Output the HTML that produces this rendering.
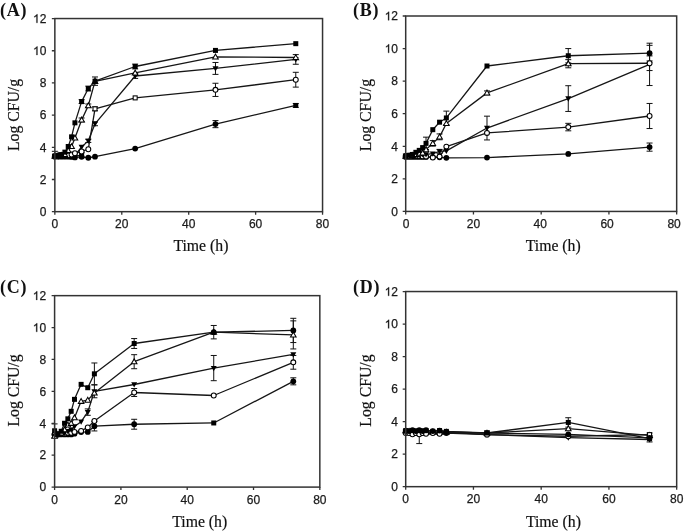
<!DOCTYPE html>
<html><head><meta charset="utf-8"><style>
html,body{margin:0;padding:0;background:#fff;width:685px;height:531px;overflow:hidden}
svg{display:block;will-change:transform}
.tl{font-family:"Liberation Sans",sans-serif;font-size:12px;fill:#1a1a1a;stroke:#1a1a1a;stroke-width:0.25px}
.at{font-family:"Liberation Serif",serif;font-size:15.75px;fill:#111;stroke:#111;stroke-width:0.2px}
.pl{font-family:"Liberation Serif",serif;font-size:18px;font-weight:bold;fill:#111;letter-spacing:0.8px}
</style></head><body>
<svg width="685" height="531" viewBox="0 0 685 531">
<rect width="685" height="531" fill="#fff"/>
<g>
<g><path d="M54.85,156.63 L58.20,156.63 L61.54,156.63 L64.89,156.63 L68.23,156.63 L71.58,156.95 L74.93,157.44 L81.62,156.79 L88.31,157.76 L95.00,156.63 L135.16,148.58 L215.47,124.12 L295.78,105.45" fill="none" stroke="#161616" stroke-width="1.3" stroke-linejoin="round"/>
<path d="M54.85,156.15 L58.20,156.15 L61.54,156.15 L64.89,156.15 L68.23,156.15 L71.58,156.15 L81.62,155.34" fill="none" stroke="#161616" stroke-width="1.3" stroke-linejoin="round"/>
<path d="M54.85,156.63 L58.20,156.63 L61.54,156.15 L64.89,156.15 L68.23,156.15 L71.58,156.15 L74.93,155.34 L81.62,146.97 L88.31,140.86 L95.00,123.80 L135.16,76.00 L215.47,68.44 L295.78,59.43" fill="none" stroke="#161616" stroke-width="1.3" stroke-linejoin="round"/>
<path d="M54.85,156.15 L58.20,156.15 L61.54,156.15 L64.89,155.34 L68.23,155.34 L71.58,154.54 L74.93,153.25 L81.62,151.48 L88.31,149.23 L95.00,108.83 L135.16,97.89 L215.47,89.84 L295.78,79.70" fill="none" stroke="#161616" stroke-width="1.3" stroke-linejoin="round"/>
<path d="M54.85,156.15 L58.20,155.34 L61.54,155.34 L64.89,154.54 L68.23,150.52 L71.58,146.49 L74.93,137.96 L81.62,119.94 L88.31,105.61 L95.00,81.31 L135.16,72.95 L215.47,56.85 L295.78,57.50" fill="none" stroke="#161616" stroke-width="1.3" stroke-linejoin="round"/>
<path d="M54.85,156.15 L58.20,155.34 L61.54,154.54 L64.89,152.12 L68.23,146.49 L71.58,136.84 L74.93,122.83 L81.62,101.59 L88.31,88.56 L95.00,81.15 L135.16,66.51 L215.47,50.41 L295.78,43.66" fill="none" stroke="#161616" stroke-width="1.3" stroke-linejoin="round"/>
<path d="M54.85,151.32V157.44M51.85,151.32H57.85M51.85,157.44H57.85" stroke="#111" stroke-width="1" fill="none"/>
<path d="M215.47,120.58V127.66M212.47,120.58H218.47M212.47,127.66H218.47" stroke="#111" stroke-width="1" fill="none"/>
<path d="M295.78,103.52V107.39M292.78,103.52H298.78M292.78,107.39H298.78" stroke="#111" stroke-width="1" fill="none"/>
<path d="M81.62,152.77V157.92M78.62,152.77H84.62M78.62,157.92H84.62" stroke="#111" stroke-width="1" fill="none"/>
<path d="M88.31,139.25V142.47M85.31,139.25H91.31M85.31,142.47H91.31" stroke="#111" stroke-width="1" fill="none"/>
<path d="M95.00,121.87V125.73M92.00,121.87H98.00M92.00,125.73H98.00" stroke="#111" stroke-width="1" fill="none"/>
<path d="M135.16,73.59V78.42M132.16,73.59H138.16M132.16,78.42H138.16" stroke="#111" stroke-width="1" fill="none"/>
<path d="M215.47,62.48V74.39M212.47,62.48H218.47M212.47,74.39H218.47" stroke="#111" stroke-width="1" fill="none"/>
<path d="M295.78,54.60V64.26M292.78,54.60H298.78M292.78,64.26H298.78" stroke="#111" stroke-width="1" fill="none"/>
<path d="M95.00,106.90V110.76M92.00,106.90H98.00M92.00,110.76H98.00" stroke="#111" stroke-width="1" fill="none"/>
<path d="M215.47,83.25V96.44M212.47,83.25H218.47M212.47,96.44H218.47" stroke="#111" stroke-width="1" fill="none"/>
<path d="M295.78,72.30V87.11M292.78,72.30H298.78M292.78,87.11H298.78" stroke="#111" stroke-width="1" fill="none"/>
<path d="M81.62,118.01V121.87M78.62,118.01H84.62M78.62,121.87H84.62" stroke="#111" stroke-width="1" fill="none"/>
<path d="M88.31,104.01V107.22M85.31,104.01H91.31M85.31,107.22H91.31" stroke="#111" stroke-width="1" fill="none"/>
<path d="M81.62,99.66V103.52M78.62,99.66H84.62M78.62,103.52H84.62" stroke="#111" stroke-width="1" fill="none"/>
<path d="M88.31,86.14V90.97M85.31,86.14H91.31M85.31,90.97H91.31" stroke="#111" stroke-width="1" fill="none"/>
<path d="M95.00,76.97V85.34M92.00,76.97H98.00M92.00,85.34H98.00" stroke="#111" stroke-width="1" fill="none"/>
<path d="M135.16,64.09V68.92M132.16,64.09H138.16M132.16,68.92H138.16" stroke="#111" stroke-width="1" fill="none"/>
<circle cx="54.85" cy="156.63" r="2.90" fill="#000"/>
<circle cx="58.20" cy="156.63" r="2.90" fill="#000"/>
<circle cx="61.54" cy="156.63" r="2.90" fill="#000"/>
<circle cx="64.89" cy="156.63" r="2.90" fill="#000"/>
<circle cx="68.23" cy="156.63" r="2.90" fill="#000"/>
<circle cx="71.58" cy="156.95" r="2.90" fill="#000"/>
<circle cx="74.93" cy="157.44" r="2.90" fill="#000"/>
<circle cx="81.62" cy="156.79" r="2.90" fill="#000"/>
<circle cx="88.31" cy="157.76" r="2.90" fill="#000"/>
<circle cx="95.00" cy="156.63" r="2.90" fill="#000"/>
<circle cx="135.16" cy="148.58" r="2.90" fill="#000"/>
<circle cx="215.47" cy="124.12" r="2.90" fill="#000"/>
<rect x="293.28" y="102.95" width="5.00" height="5.00" fill="#000"/>
<rect x="52.35" y="153.65" width="5.00" height="5.00" fill="#000"/>
<rect x="55.70" y="153.65" width="5.00" height="5.00" fill="#000"/>
<rect x="59.04" y="153.65" width="5.00" height="5.00" fill="#000"/>
<rect x="62.39" y="153.65" width="5.00" height="5.00" fill="#000"/>
<rect x="65.73" y="153.65" width="5.00" height="5.00" fill="#000"/>
<rect x="69.08" y="153.65" width="5.00" height="5.00" fill="#000"/>
<rect x="79.12" y="152.84" width="5.00" height="5.00" fill="#000"/>
<path d="M51.85,154.43L57.85,154.43L54.85,159.73Z" fill="#000"/>
<path d="M55.20,154.43L61.20,154.43L58.20,159.73Z" fill="#000"/>
<path d="M58.54,153.95L64.54,153.95L61.54,159.25Z" fill="#000"/>
<path d="M61.89,153.95L67.89,153.95L64.89,159.25Z" fill="#000"/>
<path d="M65.23,153.95L71.23,153.95L68.23,159.25Z" fill="#000"/>
<path d="M68.58,153.95L74.58,153.95L71.58,159.25Z" fill="#000"/>
<path d="M71.93,153.14L77.93,153.14L74.93,158.44Z" fill="#000"/>
<path d="M78.62,144.77L84.62,144.77L81.62,150.07Z" fill="#000"/>
<path d="M85.31,138.66L91.31,138.66L88.31,143.96Z" fill="#000"/>
<path d="M92.00,121.60L98.00,121.60L95.00,126.90Z" fill="#000"/>
<path d="M132.16,73.80L138.16,73.80L135.16,79.10Z" fill="#000"/>
<path d="M212.47,66.24L218.47,66.24L215.47,71.54Z" fill="#000"/>
<path d="M292.78,57.23L298.78,57.23L295.78,62.53Z" fill="#000"/>
<circle cx="54.85" cy="156.15" r="2.45" fill="#fff" stroke="#000" stroke-width="1.05"/>
<circle cx="58.20" cy="156.15" r="2.45" fill="#fff" stroke="#000" stroke-width="1.05"/>
<circle cx="61.54" cy="156.15" r="2.45" fill="#fff" stroke="#000" stroke-width="1.05"/>
<circle cx="64.89" cy="155.34" r="2.45" fill="#fff" stroke="#000" stroke-width="1.05"/>
<circle cx="68.23" cy="155.34" r="2.45" fill="#fff" stroke="#000" stroke-width="1.05"/>
<circle cx="71.58" cy="154.54" r="2.45" fill="#fff" stroke="#000" stroke-width="1.05"/>
<circle cx="74.93" cy="153.25" r="2.45" fill="#fff" stroke="#000" stroke-width="1.05"/>
<circle cx="81.62" cy="151.48" r="2.45" fill="#fff" stroke="#000" stroke-width="1.05"/>
<circle cx="88.31" cy="149.23" r="2.45" fill="#fff" stroke="#000" stroke-width="1.05"/>
<rect x="93.00" y="106.83" width="4.00" height="4.00" fill="#fff" stroke="#000" stroke-width="1.05"/>
<rect x="133.16" y="95.89" width="4.00" height="4.00" fill="#fff" stroke="#000" stroke-width="1.05"/>
<circle cx="215.47" cy="89.84" r="2.45" fill="#fff" stroke="#000" stroke-width="1.05"/>
<circle cx="295.78" cy="79.70" r="2.45" fill="#fff" stroke="#000" stroke-width="1.05"/>
<path d="M52.05,158.25L57.65,158.25L54.85,153.35Z" fill="#fff" stroke="#000" stroke-width="1.05" stroke-linejoin="miter"/>
<path d="M55.40,157.44L61.00,157.44L58.20,152.54Z" fill="#fff" stroke="#000" stroke-width="1.05" stroke-linejoin="miter"/>
<path d="M58.74,157.44L64.34,157.44L61.54,152.54Z" fill="#fff" stroke="#000" stroke-width="1.05" stroke-linejoin="miter"/>
<path d="M62.09,156.64L67.69,156.64L64.89,151.74Z" fill="#fff" stroke="#000" stroke-width="1.05" stroke-linejoin="miter"/>
<path d="M65.44,152.62L71.03,152.62L68.23,147.72Z" fill="#fff" stroke="#000" stroke-width="1.05" stroke-linejoin="miter"/>
<path d="M68.78,148.59L74.38,148.59L71.58,143.69Z" fill="#fff" stroke="#000" stroke-width="1.05" stroke-linejoin="miter"/>
<path d="M72.13,140.06L77.73,140.06L74.93,135.16Z" fill="#fff" stroke="#000" stroke-width="1.05" stroke-linejoin="miter"/>
<path d="M78.82,122.04L84.42,122.04L81.62,117.14Z" fill="#fff" stroke="#000" stroke-width="1.05" stroke-linejoin="miter"/>
<path d="M85.51,107.71L91.11,107.71L88.31,102.81Z" fill="#fff" stroke="#000" stroke-width="1.05" stroke-linejoin="miter"/>
<path d="M92.20,83.41L97.80,83.41L95.00,78.51Z" fill="#fff" stroke="#000" stroke-width="1.05" stroke-linejoin="miter"/>
<path d="M132.36,75.05L137.96,75.05L135.16,70.15Z" fill="#fff" stroke="#000" stroke-width="1.05" stroke-linejoin="miter"/>
<path d="M212.67,58.95L218.27,58.95L215.47,54.05Z" fill="#fff" stroke="#000" stroke-width="1.05" stroke-linejoin="miter"/>
<path d="M292.98,59.60L298.58,59.60L295.78,54.70Z" fill="#fff" stroke="#000" stroke-width="1.05" stroke-linejoin="miter"/>
<rect x="52.35" y="153.65" width="5.00" height="5.00" fill="#000"/>
<rect x="55.70" y="152.84" width="5.00" height="5.00" fill="#000"/>
<rect x="59.04" y="152.04" width="5.00" height="5.00" fill="#000"/>
<rect x="62.39" y="149.62" width="5.00" height="5.00" fill="#000"/>
<rect x="65.73" y="143.99" width="5.00" height="5.00" fill="#000"/>
<rect x="69.08" y="134.34" width="5.00" height="5.00" fill="#000"/>
<rect x="72.43" y="120.33" width="5.00" height="5.00" fill="#000"/>
<rect x="79.12" y="99.09" width="5.00" height="5.00" fill="#000"/>
<rect x="85.81" y="86.06" width="5.00" height="5.00" fill="#000"/>
<rect x="92.50" y="78.65" width="5.00" height="5.00" fill="#000"/>
<rect x="132.66" y="64.01" width="5.00" height="5.00" fill="#000"/>
<rect x="212.97" y="47.91" width="5.00" height="5.00" fill="#000"/>
<rect x="293.28" y="41.16" width="5.00" height="5.00" fill="#000"/>
<rect x="54.85" y="18.55" width="267.70" height="193.12" fill="none" stroke="#333" stroke-width="1.5"/>
<path d="M51.85,211.67H54.85 M51.85,179.48H54.85 M51.85,147.30H54.85 M51.85,115.11H54.85 M51.85,82.92H54.85 M51.85,50.74H54.85 M51.85,18.55H54.85 M54.85,211.67V214.67 M121.78,211.67V214.67 M188.70,211.67V214.67 M255.62,211.67V214.67 M322.55,211.67V214.67" stroke="#333" stroke-width="1.3"/>
<text x="46.35" y="215.97" text-anchor="end" class="tl">0</text>
<text x="46.35" y="183.78" text-anchor="end" class="tl">2</text>
<text x="46.35" y="151.60" text-anchor="end" class="tl">4</text>
<text x="46.35" y="119.41" text-anchor="end" class="tl">6</text>
<text x="46.35" y="87.22" text-anchor="end" class="tl">8</text>
<path d="M37.47,55.04L36.42,55.04L36.42,48.32C36.17,48.56 35.83,48.80 35.42,49.04C35.01,49.28 34.64,49.45 34.32,49.58L34.32,48.56C34.91,48.28 35.43,47.94 35.87,47.55C36.31,47.16 36.62,46.79 36.80,46.45L37.47,46.45Z" fill="#1a1a1a" stroke="#1a1a1a" stroke-width="0.25"/>
<text x="39.68" y="55.04" class="tl">0</text>
<path d="M37.47,22.85L36.42,22.85L36.42,16.13C36.17,16.37 35.83,16.61 35.42,16.85C35.01,17.09 34.64,17.27 34.32,17.39L34.32,16.37C34.91,16.09 35.43,15.75 35.87,15.36C36.31,14.97 36.62,14.60 36.80,14.26L37.47,14.26Z" fill="#1a1a1a" stroke="#1a1a1a" stroke-width="0.25"/>
<text x="39.68" y="22.85" class="tl">2</text>
<text x="54.85" y="228.47" text-anchor="middle" class="tl">0</text>
<text x="121.78" y="228.47" text-anchor="middle" class="tl">20</text>
<text x="188.70" y="228.47" text-anchor="middle" class="tl">40</text>
<text x="255.62" y="228.47" text-anchor="middle" class="tl">60</text>
<text x="322.55" y="228.47" text-anchor="middle" class="tl">80</text>
<text x="200.90" y="251.20" text-anchor="middle" class="at">Time (h)</text>
<text transform="translate(18.50,115.00) rotate(-90)" text-anchor="middle" class="at">Log CFU/g</text>
<text x="0" y="15.7" class="pl">(A)</text></g>
<g><path d="M405.70,156.88 L409.09,156.88 L412.47,156.88 L415.86,156.88 L419.25,156.88 L422.64,156.88 L426.02,156.88 L432.80,157.21 L439.57,157.37 L446.35,157.86 L486.99,157.53 L568.28,153.95 L649.57,147.11" fill="none" stroke="#161616" stroke-width="1.3" stroke-linejoin="round"/>
<path d="M405.70,156.07 L409.09,156.07 L412.47,156.07 L415.86,156.07 L419.25,156.07 L422.64,156.39 L426.02,156.55 L432.80,157.53 L439.57,156.55 L446.35,146.62 L486.99,132.94 L568.28,127.08 L649.57,116.00" fill="none" stroke="#161616" stroke-width="1.3" stroke-linejoin="round"/>
<path d="M405.70,156.07 L409.09,156.07 L412.47,156.07 L415.86,155.25 L419.25,155.25 L422.64,154.44 L426.02,154.44 L432.80,153.62 L439.57,151.34 L446.35,150.85 L486.99,128.05 L568.28,98.57 L649.57,64.37" fill="none" stroke="#161616" stroke-width="1.3" stroke-linejoin="round"/>
<path d="M405.70,156.07 L409.09,156.07 L412.47,155.25 L415.86,154.44 L419.25,153.62 L422.64,152.81 L426.02,149.55 L432.80,143.36 L439.57,136.85 L446.35,123.49 L486.99,92.87 L568.28,63.72 L649.57,63.23" fill="none" stroke="#161616" stroke-width="1.3" stroke-linejoin="round"/>
<path d="M405.70,156.07 L409.09,155.25 L412.47,154.44 L415.86,152.32 L419.25,150.37 L422.64,147.60 L426.02,143.36 L432.80,129.68 L439.57,122.19 L446.35,117.95 L486.99,66.00 L568.28,55.74 L649.57,53.13" fill="none" stroke="#161616" stroke-width="1.3" stroke-linejoin="round"/>
<path d="M649.57,143.04V151.18M646.57,143.04H652.57M646.57,151.18H652.57" stroke="#111" stroke-width="1" fill="none"/>
<path d="M568.28,123.33V130.82M565.28,123.33H571.28M565.28,130.82H571.28" stroke="#111" stroke-width="1" fill="none"/>
<path d="M649.57,103.46V128.54M646.57,103.46H652.57M646.57,128.54H652.57" stroke="#111" stroke-width="1" fill="none"/>
<path d="M439.57,149.39V153.30M436.57,149.39H442.57M436.57,153.30H442.57" stroke="#111" stroke-width="1" fill="none"/>
<path d="M486.99,116.16V139.94M483.99,116.16H489.99M483.99,139.94H489.99" stroke="#111" stroke-width="1" fill="none"/>
<path d="M568.28,85.71V111.44M565.28,85.71H571.28M565.28,111.44H571.28" stroke="#111" stroke-width="1" fill="none"/>
<path d="M649.57,43.20V85.54M646.57,43.20H652.57M646.57,85.54H652.57" stroke="#111" stroke-width="1" fill="none"/>
<path d="M432.80,140.59V146.13M429.80,140.59H435.80M429.80,146.13H435.80" stroke="#111" stroke-width="1" fill="none"/>
<path d="M439.57,133.92V139.78M436.57,133.92H442.57M436.57,139.78H442.57" stroke="#111" stroke-width="1" fill="none"/>
<path d="M486.99,90.92V94.83M483.99,90.92H489.99M483.99,94.83H489.99" stroke="#111" stroke-width="1" fill="none"/>
<path d="M568.28,59.65V67.79M565.28,59.65H571.28M565.28,67.79H571.28" stroke="#111" stroke-width="1" fill="none"/>
<path d="M649.57,55.90V70.56M646.57,55.90H652.57M646.57,70.56H652.57" stroke="#111" stroke-width="1" fill="none"/>
<path d="M426.02,137.17V149.55M423.02,137.17H429.02M423.02,149.55H429.02" stroke="#111" stroke-width="1" fill="none"/>
<path d="M446.35,111.11V124.79M443.35,111.11H449.35M443.35,124.79H449.35" stroke="#111" stroke-width="1" fill="none"/>
<path d="M568.28,48.57V62.91M565.28,48.57H571.28M565.28,62.91H571.28" stroke="#111" stroke-width="1" fill="none"/>
<path d="M649.57,45.32V60.95M646.57,45.32H652.57M646.57,60.95H652.57" stroke="#111" stroke-width="1" fill="none"/>
<circle cx="405.70" cy="156.88" r="2.90" fill="#000"/>
<circle cx="409.09" cy="156.88" r="2.90" fill="#000"/>
<circle cx="412.47" cy="156.88" r="2.90" fill="#000"/>
<circle cx="415.86" cy="156.88" r="2.90" fill="#000"/>
<circle cx="419.25" cy="156.88" r="2.90" fill="#000"/>
<circle cx="422.64" cy="156.88" r="2.90" fill="#000"/>
<circle cx="426.02" cy="156.88" r="2.90" fill="#000"/>
<circle cx="432.80" cy="157.21" r="2.90" fill="#000"/>
<circle cx="439.57" cy="157.37" r="2.90" fill="#000"/>
<circle cx="446.35" cy="157.86" r="2.90" fill="#000"/>
<circle cx="486.99" cy="157.53" r="2.90" fill="#000"/>
<circle cx="568.28" cy="153.95" r="2.90" fill="#000"/>
<circle cx="649.57" cy="147.11" r="2.90" fill="#000"/>
<circle cx="405.70" cy="156.07" r="2.45" fill="#fff" stroke="#000" stroke-width="1.05"/>
<circle cx="409.09" cy="156.07" r="2.45" fill="#fff" stroke="#000" stroke-width="1.05"/>
<circle cx="412.47" cy="156.07" r="2.45" fill="#fff" stroke="#000" stroke-width="1.05"/>
<circle cx="415.86" cy="156.07" r="2.45" fill="#fff" stroke="#000" stroke-width="1.05"/>
<circle cx="419.25" cy="156.07" r="2.45" fill="#fff" stroke="#000" stroke-width="1.05"/>
<circle cx="422.64" cy="156.39" r="2.45" fill="#fff" stroke="#000" stroke-width="1.05"/>
<circle cx="426.02" cy="156.55" r="2.45" fill="#fff" stroke="#000" stroke-width="1.05"/>
<circle cx="432.80" cy="157.53" r="2.45" fill="#fff" stroke="#000" stroke-width="1.05"/>
<circle cx="439.57" cy="156.55" r="2.45" fill="#fff" stroke="#000" stroke-width="1.05"/>
<circle cx="446.35" cy="146.62" r="2.45" fill="#fff" stroke="#000" stroke-width="1.05"/>
<circle cx="486.99" cy="132.94" r="2.45" fill="#fff" stroke="#000" stroke-width="1.05"/>
<circle cx="568.28" cy="127.08" r="2.45" fill="#fff" stroke="#000" stroke-width="1.05"/>
<circle cx="649.57" cy="116.00" r="2.45" fill="#fff" stroke="#000" stroke-width="1.05"/>
<path d="M402.70,153.87L408.70,153.87L405.70,159.17Z" fill="#000"/>
<path d="M406.09,153.87L412.09,153.87L409.09,159.17Z" fill="#000"/>
<path d="M409.47,153.87L415.47,153.87L412.47,159.17Z" fill="#000"/>
<path d="M412.86,153.05L418.86,153.05L415.86,158.35Z" fill="#000"/>
<path d="M416.25,153.05L422.25,153.05L419.25,158.35Z" fill="#000"/>
<path d="M419.64,152.24L425.64,152.24L422.64,157.54Z" fill="#000"/>
<path d="M423.02,152.24L429.02,152.24L426.02,157.54Z" fill="#000"/>
<path d="M429.80,151.42L435.80,151.42L432.80,156.72Z" fill="#000"/>
<path d="M436.57,149.14L442.57,149.14L439.57,154.44Z" fill="#000"/>
<path d="M443.35,148.65L449.35,148.65L446.35,153.95Z" fill="#000"/>
<path d="M483.99,125.85L489.99,125.85L486.99,131.15Z" fill="#000"/>
<path d="M565.28,96.37L571.28,96.37L568.28,101.67Z" fill="#000"/>
<path d="M646.57,62.17L652.57,62.17L649.57,67.47Z" fill="#000"/>
<path d="M402.90,158.17L408.50,158.17L405.70,153.27Z" fill="#fff" stroke="#000" stroke-width="1.05" stroke-linejoin="miter"/>
<path d="M406.29,158.17L411.89,158.17L409.09,153.27Z" fill="#fff" stroke="#000" stroke-width="1.05" stroke-linejoin="miter"/>
<path d="M409.67,157.35L415.27,157.35L412.47,152.45Z" fill="#fff" stroke="#000" stroke-width="1.05" stroke-linejoin="miter"/>
<path d="M413.06,156.54L418.66,156.54L415.86,151.64Z" fill="#fff" stroke="#000" stroke-width="1.05" stroke-linejoin="miter"/>
<path d="M416.45,155.72L422.05,155.72L419.25,150.82Z" fill="#fff" stroke="#000" stroke-width="1.05" stroke-linejoin="miter"/>
<path d="M419.84,154.91L425.44,154.91L422.64,150.01Z" fill="#fff" stroke="#000" stroke-width="1.05" stroke-linejoin="miter"/>
<path d="M423.22,151.65L428.82,151.65L426.02,146.75Z" fill="#fff" stroke="#000" stroke-width="1.05" stroke-linejoin="miter"/>
<path d="M430.00,145.46L435.60,145.46L432.80,140.56Z" fill="#fff" stroke="#000" stroke-width="1.05" stroke-linejoin="miter"/>
<path d="M436.77,138.95L442.37,138.95L439.57,134.05Z" fill="#fff" stroke="#000" stroke-width="1.05" stroke-linejoin="miter"/>
<path d="M443.55,125.59L449.15,125.59L446.35,120.69Z" fill="#fff" stroke="#000" stroke-width="1.05" stroke-linejoin="miter"/>
<path d="M484.19,94.97L489.79,94.97L486.99,90.07Z" fill="#fff" stroke="#000" stroke-width="1.05" stroke-linejoin="miter"/>
<path d="M565.48,65.82L571.08,65.82L568.28,60.92Z" fill="#fff" stroke="#000" stroke-width="1.05" stroke-linejoin="miter"/>
<circle cx="649.57" cy="63.23" r="2.45" fill="#fff" stroke="#000" stroke-width="1.05"/>
<rect x="403.20" y="153.57" width="5.00" height="5.00" fill="#000"/>
<rect x="406.59" y="152.75" width="5.00" height="5.00" fill="#000"/>
<rect x="409.97" y="151.94" width="5.00" height="5.00" fill="#000"/>
<rect x="413.36" y="149.82" width="5.00" height="5.00" fill="#000"/>
<rect x="416.75" y="147.87" width="5.00" height="5.00" fill="#000"/>
<rect x="420.14" y="145.10" width="5.00" height="5.00" fill="#000"/>
<rect x="423.52" y="140.86" width="5.00" height="5.00" fill="#000"/>
<rect x="430.30" y="127.18" width="5.00" height="5.00" fill="#000"/>
<rect x="437.07" y="119.69" width="5.00" height="5.00" fill="#000"/>
<rect x="443.85" y="115.45" width="5.00" height="5.00" fill="#000"/>
<rect x="484.49" y="63.50" width="5.00" height="5.00" fill="#000"/>
<rect x="565.78" y="53.24" width="5.00" height="5.00" fill="#000"/>
<circle cx="649.57" cy="53.13" r="2.90" fill="#000"/>
<rect x="405.70" y="16.00" width="270.97" height="195.44" fill="none" stroke="#333" stroke-width="1.5"/>
<path d="M402.70,211.44H405.70 M402.70,178.87H405.70 M402.70,146.29H405.70 M402.70,113.72H405.70 M402.70,81.15H405.70 M402.70,48.57H405.70 M402.70,16.00H405.70 M405.70,211.44V214.44 M473.44,211.44V214.44 M541.18,211.44V214.44 M608.93,211.44V214.44 M676.67,211.44V214.44" stroke="#333" stroke-width="1.3"/>
<text x="398.00" y="215.74" text-anchor="end" class="tl">0</text>
<text x="398.00" y="183.17" text-anchor="end" class="tl">2</text>
<text x="398.00" y="150.59" text-anchor="end" class="tl">4</text>
<text x="398.00" y="118.02" text-anchor="end" class="tl">6</text>
<text x="398.00" y="85.45" text-anchor="end" class="tl">8</text>
<path d="M389.12,52.87L388.07,52.87L388.07,46.15C387.82,46.39 387.48,46.63 387.07,46.87C386.66,47.11 386.29,47.29 385.97,47.41L385.97,46.39C386.56,46.12 387.08,45.78 387.52,45.39C387.96,44.99 388.27,44.62 388.45,44.28L389.12,44.28Z" fill="#1a1a1a" stroke="#1a1a1a" stroke-width="0.25"/>
<text x="391.33" y="52.87" class="tl">0</text>
<path d="M389.12,20.30L388.07,20.30L388.07,13.58C387.82,13.82 387.48,14.06 387.07,14.30C386.66,14.54 386.29,14.72 385.97,14.84L385.97,13.82C386.56,13.54 387.08,13.20 387.52,12.81C387.96,12.42 388.27,12.05 388.45,11.71L389.12,11.71Z" fill="#1a1a1a" stroke="#1a1a1a" stroke-width="0.25"/>
<text x="391.33" y="20.30" class="tl">2</text>
<text x="406.10" y="228.24" text-anchor="middle" class="tl">0</text>
<text x="473.50" y="228.24" text-anchor="middle" class="tl">20</text>
<text x="540.20" y="228.24" text-anchor="middle" class="tl">40</text>
<text x="607.10" y="228.24" text-anchor="middle" class="tl">60</text>
<text x="674.10" y="228.24" text-anchor="middle" class="tl">80</text>
<text x="553.25" y="251.20" text-anchor="middle" class="at">Time (h)</text>
<text transform="translate(370.50,115.10) rotate(-90)" text-anchor="middle" class="at">Log CFU/g</text>
<text x="353" y="15.7" class="pl">(B)</text></g>
<g><path d="M54.60,434.45 L57.92,434.45 L61.23,434.45 L64.55,434.45 L67.86,434.45 L71.18,434.45 L74.49,433.65 L81.12,432.06 L87.75,431.90 L94.38,426.16 L134.17,424.24 L213.74,422.96 L293.31,381.32" fill="none" stroke="#161616" stroke-width="1.3" stroke-linejoin="round"/>
<path d="M54.60,434.45 L57.92,434.45 L61.23,433.65 L64.55,433.65 L67.86,432.86 L71.18,432.86 L74.49,431.90 L81.12,430.94 L87.75,427.43 L94.38,421.05 L134.17,392.49 L213.74,395.52 L293.31,362.34" fill="none" stroke="#161616" stroke-width="1.3" stroke-linejoin="round"/>
<path d="M54.60,436.05 L57.92,434.45 L61.23,433.65 L64.55,432.86 L67.86,431.26 L71.18,429.67 L74.49,426.47 L81.12,421.69 L87.75,412.12 L94.38,391.38 L134.17,384.51 L213.74,368.08 L293.31,354.36" fill="none" stroke="#161616" stroke-width="1.3" stroke-linejoin="round"/>
<path d="M54.60,436.05 L57.92,434.45 L61.23,432.86 L64.55,429.67 L67.86,424.88 L71.18,423.28 L74.49,417.70 L81.12,401.27 L87.75,400.15 L94.38,392.97 L134.17,361.70 L213.74,332.19 L293.31,334.90" fill="none" stroke="#161616" stroke-width="1.3" stroke-linejoin="round"/>
<path d="M54.60,430.78 L57.92,434.45 L61.23,431.26 L64.55,423.28 L67.86,418.82 L71.18,411.32 L74.49,399.35 L81.12,384.36 L87.75,387.71 L94.38,373.83 L134.17,343.51 L213.74,332.19 L293.31,330.43" fill="none" stroke="#161616" stroke-width="1.3" stroke-linejoin="round"/>
<path d="M94.38,421.37V430.94M91.38,421.37H97.38M91.38,430.94H97.38" stroke="#111" stroke-width="1" fill="none"/>
<path d="M134.17,419.29V429.19M131.17,419.29H137.17M131.17,429.19H137.17" stroke="#111" stroke-width="1" fill="none"/>
<path d="M293.31,377.81V384.83M290.31,377.81H296.31M290.31,384.83H296.31" stroke="#111" stroke-width="1" fill="none"/>
<path d="M134.17,388.50V396.48M131.17,388.50H137.17M131.17,396.48H137.17" stroke="#111" stroke-width="1" fill="none"/>
<path d="M293.31,355.48V369.20M290.31,355.48H296.31M290.31,369.20H296.31" stroke="#111" stroke-width="1" fill="none"/>
<path d="M87.75,408.92V415.31M84.75,408.92H90.75M84.75,415.31H90.75" stroke="#111" stroke-width="1" fill="none"/>
<path d="M94.38,384.99V397.76M91.38,384.99H97.38M91.38,397.76H97.38" stroke="#111" stroke-width="1" fill="none"/>
<path d="M213.74,355.48V380.69M210.74,355.48H216.74M210.74,380.69H216.74" stroke="#111" stroke-width="1" fill="none"/>
<path d="M134.17,354.68V368.72M131.17,354.68H137.17M131.17,368.72H137.17" stroke="#111" stroke-width="1" fill="none"/>
<path d="M293.31,320.86V348.94M290.31,320.86H296.31M290.31,348.94H296.31" stroke="#111" stroke-width="1" fill="none"/>
<path d="M54.60,423.92V437.64M51.60,423.92H57.60M51.60,437.64H57.60" stroke="#111" stroke-width="1" fill="none"/>
<path d="M94.38,362.98V384.67M91.38,362.98H97.38M91.38,384.67H97.38" stroke="#111" stroke-width="1" fill="none"/>
<path d="M134.17,338.57V348.46M131.17,338.57H137.17M131.17,348.46H137.17" stroke="#111" stroke-width="1" fill="none"/>
<path d="M213.74,325.48V338.89M210.74,325.48H216.74M210.74,338.89H216.74" stroke="#111" stroke-width="1" fill="none"/>
<path d="M293.31,318.30V342.56M290.31,318.30H296.31M290.31,342.56H296.31" stroke="#111" stroke-width="1" fill="none"/>
<circle cx="54.60" cy="434.45" r="2.90" fill="#000"/>
<circle cx="57.92" cy="434.45" r="2.90" fill="#000"/>
<circle cx="61.23" cy="434.45" r="2.90" fill="#000"/>
<circle cx="64.55" cy="434.45" r="2.90" fill="#000"/>
<circle cx="67.86" cy="434.45" r="2.90" fill="#000"/>
<circle cx="71.18" cy="434.45" r="2.90" fill="#000"/>
<circle cx="74.49" cy="433.65" r="2.90" fill="#000"/>
<circle cx="81.12" cy="432.06" r="2.90" fill="#000"/>
<circle cx="87.75" cy="431.90" r="2.90" fill="#000"/>
<circle cx="94.38" cy="426.16" r="2.90" fill="#000"/>
<circle cx="134.17" cy="424.24" r="2.90" fill="#000"/>
<rect x="211.24" y="420.46" width="5.00" height="5.00" fill="#000"/>
<circle cx="293.31" cy="381.32" r="2.90" fill="#000"/>
<circle cx="54.60" cy="434.45" r="2.45" fill="#fff" stroke="#000" stroke-width="1.05"/>
<circle cx="57.92" cy="434.45" r="2.45" fill="#fff" stroke="#000" stroke-width="1.05"/>
<circle cx="61.23" cy="433.65" r="2.45" fill="#fff" stroke="#000" stroke-width="1.05"/>
<circle cx="64.55" cy="433.65" r="2.45" fill="#fff" stroke="#000" stroke-width="1.05"/>
<circle cx="67.86" cy="432.86" r="2.45" fill="#fff" stroke="#000" stroke-width="1.05"/>
<circle cx="71.18" cy="432.86" r="2.45" fill="#fff" stroke="#000" stroke-width="1.05"/>
<circle cx="74.49" cy="431.90" r="2.45" fill="#fff" stroke="#000" stroke-width="1.05"/>
<circle cx="81.12" cy="430.94" r="2.45" fill="#fff" stroke="#000" stroke-width="1.05"/>
<circle cx="87.75" cy="427.43" r="2.45" fill="#fff" stroke="#000" stroke-width="1.05"/>
<circle cx="94.38" cy="421.05" r="2.45" fill="#fff" stroke="#000" stroke-width="1.05"/>
<circle cx="134.17" cy="392.49" r="2.45" fill="#fff" stroke="#000" stroke-width="1.05"/>
<circle cx="213.74" cy="395.52" r="2.45" fill="#fff" stroke="#000" stroke-width="1.05"/>
<circle cx="293.31" cy="362.34" r="2.45" fill="#fff" stroke="#000" stroke-width="1.05"/>
<path d="M51.60,433.85L57.60,433.85L54.60,439.15Z" fill="#000"/>
<path d="M54.92,432.25L60.92,432.25L57.92,437.55Z" fill="#000"/>
<path d="M58.23,431.45L64.23,431.45L61.23,436.75Z" fill="#000"/>
<path d="M61.55,430.66L67.55,430.66L64.55,435.96Z" fill="#000"/>
<path d="M64.86,429.06L70.86,429.06L67.86,434.36Z" fill="#000"/>
<path d="M68.18,427.46L74.18,427.46L71.18,432.77Z" fill="#000"/>
<path d="M71.49,424.27L77.49,424.27L74.49,429.57Z" fill="#000"/>
<path d="M78.12,419.49L84.12,419.49L81.12,424.79Z" fill="#000"/>
<path d="M84.75,409.92L90.75,409.92L87.75,415.22Z" fill="#000"/>
<path d="M91.38,389.17L97.38,389.17L94.38,394.48Z" fill="#000"/>
<path d="M131.17,382.31L137.17,382.31L134.17,387.61Z" fill="#000"/>
<path d="M210.74,365.88L216.74,365.88L213.74,371.18Z" fill="#000"/>
<path d="M290.31,352.16L296.31,352.16L293.31,357.46Z" fill="#000"/>
<path d="M51.80,438.15L57.40,438.15L54.60,433.25Z" fill="#fff" stroke="#000" stroke-width="1.05" stroke-linejoin="miter"/>
<path d="M55.12,436.55L60.72,436.55L57.92,431.65Z" fill="#fff" stroke="#000" stroke-width="1.05" stroke-linejoin="miter"/>
<path d="M58.43,434.96L64.03,434.96L61.23,430.06Z" fill="#fff" stroke="#000" stroke-width="1.05" stroke-linejoin="miter"/>
<path d="M61.75,431.77L67.35,431.77L64.55,426.87Z" fill="#fff" stroke="#000" stroke-width="1.05" stroke-linejoin="miter"/>
<path d="M65.06,426.98L70.66,426.98L67.86,422.08Z" fill="#fff" stroke="#000" stroke-width="1.05" stroke-linejoin="miter"/>
<path d="M68.38,425.38L73.98,425.38L71.18,420.48Z" fill="#fff" stroke="#000" stroke-width="1.05" stroke-linejoin="miter"/>
<path d="M71.69,419.80L77.29,419.80L74.49,414.90Z" fill="#fff" stroke="#000" stroke-width="1.05" stroke-linejoin="miter"/>
<path d="M78.32,403.37L83.92,403.37L81.12,398.47Z" fill="#fff" stroke="#000" stroke-width="1.05" stroke-linejoin="miter"/>
<path d="M84.95,402.25L90.55,402.25L87.75,397.35Z" fill="#fff" stroke="#000" stroke-width="1.05" stroke-linejoin="miter"/>
<path d="M91.58,395.07L97.18,395.07L94.38,390.17Z" fill="#fff" stroke="#000" stroke-width="1.05" stroke-linejoin="miter"/>
<path d="M131.37,363.80L136.97,363.80L134.17,358.90Z" fill="#fff" stroke="#000" stroke-width="1.05" stroke-linejoin="miter"/>
<path d="M210.94,334.29L216.54,334.29L213.74,329.39Z" fill="#fff" stroke="#000" stroke-width="1.05" stroke-linejoin="miter"/>
<path d="M290.51,337.00L296.11,337.00L293.31,332.10Z" fill="#fff" stroke="#000" stroke-width="1.05" stroke-linejoin="miter"/>
<rect x="52.10" y="428.28" width="5.00" height="5.00" fill="#000"/>
<rect x="55.42" y="431.95" width="5.00" height="5.00" fill="#000"/>
<rect x="58.73" y="428.76" width="5.00" height="5.00" fill="#000"/>
<rect x="62.05" y="420.78" width="5.00" height="5.00" fill="#000"/>
<rect x="65.36" y="416.32" width="5.00" height="5.00" fill="#000"/>
<rect x="68.68" y="408.82" width="5.00" height="5.00" fill="#000"/>
<rect x="71.99" y="396.85" width="5.00" height="5.00" fill="#000"/>
<rect x="78.62" y="381.86" width="5.00" height="5.00" fill="#000"/>
<rect x="85.25" y="385.21" width="5.00" height="5.00" fill="#000"/>
<rect x="91.88" y="371.33" width="5.00" height="5.00" fill="#000"/>
<rect x="131.67" y="341.01" width="5.00" height="5.00" fill="#000"/>
<circle cx="213.74" cy="332.19" r="2.90" fill="#000"/>
<circle cx="293.31" cy="330.43" r="2.90" fill="#000"/>
<rect x="54.60" y="295.65" width="265.23" height="191.45" fill="none" stroke="#333" stroke-width="1.5"/>
<path d="M51.60,487.10H54.60 M51.60,455.19H54.60 M51.60,423.28H54.60 M51.60,391.38H54.60 M51.60,359.47H54.60 M51.60,327.56H54.60 M51.60,295.65H54.60 M54.60,487.10V490.10 M120.91,487.10V490.10 M187.21,487.10V490.10 M253.52,487.10V490.10 M319.83,487.10V490.10" stroke="#333" stroke-width="1.3"/>
<text x="46.10" y="491.40" text-anchor="end" class="tl">0</text>
<text x="46.10" y="459.49" text-anchor="end" class="tl">2</text>
<text x="46.10" y="427.58" text-anchor="end" class="tl">4</text>
<text x="46.10" y="395.68" text-anchor="end" class="tl">6</text>
<text x="46.10" y="363.77" text-anchor="end" class="tl">8</text>
<path d="M37.22,331.86L36.17,331.86L36.17,325.14C35.92,325.38 35.58,325.62 35.17,325.86C34.76,326.10 34.39,326.27 34.07,326.40L34.07,325.38C34.66,325.10 35.18,324.76 35.62,324.37C36.06,323.98 36.37,323.61 36.55,323.27L37.22,323.27Z" fill="#1a1a1a" stroke="#1a1a1a" stroke-width="0.25"/>
<text x="39.43" y="331.86" class="tl">0</text>
<path d="M37.22,299.95L36.17,299.95L36.17,293.23C35.92,293.47 35.58,293.71 35.17,293.95C34.76,294.19 34.39,294.37 34.07,294.49L34.07,293.47C34.66,293.19 35.18,292.85 35.62,292.46C36.06,292.07 36.37,291.70 36.55,291.36L37.22,291.36Z" fill="#1a1a1a" stroke="#1a1a1a" stroke-width="0.25"/>
<text x="39.43" y="299.95" class="tl">2</text>
<text x="54.60" y="503.90" text-anchor="middle" class="tl">0</text>
<text x="120.91" y="503.90" text-anchor="middle" class="tl">20</text>
<text x="187.21" y="503.90" text-anchor="middle" class="tl">40</text>
<text x="253.52" y="503.90" text-anchor="middle" class="tl">60</text>
<text x="319.83" y="503.90" text-anchor="middle" class="tl">80</text>
<text x="199.70" y="527.30" text-anchor="middle" class="at">Time (h)</text>
<text transform="translate(18.50,390.50) rotate(-90)" text-anchor="middle" class="at">Log CFU/g</text>
<text x="0" y="293" class="pl">(C)</text></g>
<g><path d="M405.70,430.57 L409.09,431.38 L412.47,430.57 L415.86,431.38 L419.25,430.57 L422.64,431.38 L426.02,430.57 L432.80,431.38 L439.57,430.57 L446.35,431.38 L486.99,433.01 L568.28,422.44 L649.57,438.70" fill="none" stroke="#161616" stroke-width="1.3" stroke-linejoin="round"/>
<path d="M405.70,430.57 L409.09,431.38 L412.47,432.20 L415.86,432.20 L419.25,433.01 L422.64,432.20 L426.02,432.20 L432.80,432.20 L439.57,432.20 L446.35,432.20 L486.99,433.01 L568.28,428.62 L649.57,435.45" fill="none" stroke="#161616" stroke-width="1.3" stroke-linejoin="round"/>
<path d="M405.70,431.38 L409.09,432.20 L412.47,432.20 L415.86,432.20 L419.25,433.01 L422.64,432.20 L426.02,433.01 L432.80,432.20 L439.57,433.01 L446.35,432.20 L486.99,434.64 L568.28,437.56 L649.57,439.51" fill="none" stroke="#161616" stroke-width="1.3" stroke-linejoin="round"/>
<path d="M405.70,433.01 L409.09,433.01 L412.47,434.31 L415.86,433.01 L419.25,434.31 L422.64,433.01 L426.02,433.82 L432.80,433.01 L439.57,433.82 L446.35,433.01 L486.99,434.64 L568.28,436.26 L649.57,434.64" fill="none" stroke="#161616" stroke-width="1.3" stroke-linejoin="round"/>
<path d="M405.70,431.06 L409.09,431.06 L412.47,430.24 L415.86,431.06 L419.25,430.24 L422.64,431.06 L426.02,430.24 L432.80,431.06 L439.57,430.57 L446.35,432.20 L486.99,433.01 L568.28,434.31 L649.57,437.89" fill="none" stroke="#161616" stroke-width="1.3" stroke-linejoin="round"/>
<path d="M486.99,431.06V434.96M483.99,431.06H489.99M483.99,434.96H489.99" stroke="#111" stroke-width="1" fill="none"/>
<path d="M568.28,417.72V427.16M565.28,417.72H571.28M565.28,427.16H571.28" stroke="#111" stroke-width="1" fill="none"/>
<path d="M649.57,435.45V441.95M646.57,435.45H652.57M646.57,441.95H652.57" stroke="#111" stroke-width="1" fill="none"/>
<path d="M419.25,432.20V443.58M416.25,432.20H422.25M416.25,443.58H422.25" stroke="#111" stroke-width="1" fill="none"/>
<path d="M649.57,433.01V436.26M646.57,433.01H652.57M646.57,436.26H652.57" stroke="#111" stroke-width="1" fill="none"/>
<rect x="403.20" y="428.07" width="5.00" height="5.00" fill="#000"/>
<rect x="406.59" y="428.88" width="5.00" height="5.00" fill="#000"/>
<rect x="409.97" y="428.07" width="5.00" height="5.00" fill="#000"/>
<rect x="413.36" y="428.88" width="5.00" height="5.00" fill="#000"/>
<rect x="416.75" y="428.07" width="5.00" height="5.00" fill="#000"/>
<rect x="420.14" y="428.88" width="5.00" height="5.00" fill="#000"/>
<rect x="423.52" y="428.07" width="5.00" height="5.00" fill="#000"/>
<rect x="430.30" y="428.88" width="5.00" height="5.00" fill="#000"/>
<rect x="437.07" y="428.07" width="5.00" height="5.00" fill="#000"/>
<rect x="443.85" y="428.88" width="5.00" height="5.00" fill="#000"/>
<rect x="484.49" y="430.51" width="5.00" height="5.00" fill="#000"/>
<rect x="565.78" y="419.94" width="5.00" height="5.00" fill="#000"/>
<rect x="647.07" y="436.20" width="5.00" height="5.00" fill="#000"/>
<path d="M402.90,432.67L408.50,432.67L405.70,427.77Z" fill="#fff" stroke="#000" stroke-width="1.05" stroke-linejoin="miter"/>
<path d="M406.29,433.48L411.89,433.48L409.09,428.58Z" fill="#fff" stroke="#000" stroke-width="1.05" stroke-linejoin="miter"/>
<path d="M409.67,434.30L415.27,434.30L412.47,429.40Z" fill="#fff" stroke="#000" stroke-width="1.05" stroke-linejoin="miter"/>
<path d="M413.06,434.30L418.66,434.30L415.86,429.40Z" fill="#fff" stroke="#000" stroke-width="1.05" stroke-linejoin="miter"/>
<path d="M416.45,435.11L422.05,435.11L419.25,430.21Z" fill="#fff" stroke="#000" stroke-width="1.05" stroke-linejoin="miter"/>
<path d="M419.84,434.30L425.44,434.30L422.64,429.40Z" fill="#fff" stroke="#000" stroke-width="1.05" stroke-linejoin="miter"/>
<path d="M423.22,434.30L428.82,434.30L426.02,429.40Z" fill="#fff" stroke="#000" stroke-width="1.05" stroke-linejoin="miter"/>
<path d="M430.00,434.30L435.60,434.30L432.80,429.40Z" fill="#fff" stroke="#000" stroke-width="1.05" stroke-linejoin="miter"/>
<path d="M436.77,434.30L442.37,434.30L439.57,429.40Z" fill="#fff" stroke="#000" stroke-width="1.05" stroke-linejoin="miter"/>
<path d="M443.55,434.30L449.15,434.30L446.35,429.40Z" fill="#fff" stroke="#000" stroke-width="1.05" stroke-linejoin="miter"/>
<path d="M484.19,435.11L489.79,435.11L486.99,430.21Z" fill="#fff" stroke="#000" stroke-width="1.05" stroke-linejoin="miter"/>
<path d="M565.48,430.72L571.08,430.72L568.28,425.82Z" fill="#fff" stroke="#000" stroke-width="1.05" stroke-linejoin="miter"/>
<path d="M646.77,437.55L652.37,437.55L649.57,432.65Z" fill="#fff" stroke="#000" stroke-width="1.05" stroke-linejoin="miter"/>
<path d="M402.70,429.18L408.70,429.18L405.70,434.48Z" fill="#000"/>
<path d="M406.09,430.00L412.09,430.00L409.09,435.30Z" fill="#000"/>
<path d="M409.47,430.00L415.47,430.00L412.47,435.30Z" fill="#000"/>
<path d="M412.86,430.00L418.86,430.00L415.86,435.30Z" fill="#000"/>
<path d="M416.25,430.81L422.25,430.81L419.25,436.11Z" fill="#000"/>
<path d="M419.64,430.00L425.64,430.00L422.64,435.30Z" fill="#000"/>
<path d="M423.02,430.81L429.02,430.81L426.02,436.11Z" fill="#000"/>
<path d="M429.80,430.00L435.80,430.00L432.80,435.30Z" fill="#000"/>
<path d="M436.57,430.81L442.57,430.81L439.57,436.11Z" fill="#000"/>
<path d="M443.35,430.00L449.35,430.00L446.35,435.30Z" fill="#000"/>
<path d="M483.99,432.44L489.99,432.44L486.99,437.74Z" fill="#000"/>
<path d="M565.28,435.36L571.28,435.36L568.28,440.66Z" fill="#000"/>
<path d="M646.57,437.31L652.57,437.31L649.57,442.61Z" fill="#000"/>
<circle cx="405.70" cy="433.01" r="2.45" fill="#fff" stroke="#000" stroke-width="1.05"/>
<circle cx="409.09" cy="433.01" r="2.45" fill="#fff" stroke="#000" stroke-width="1.05"/>
<circle cx="412.47" cy="434.31" r="2.45" fill="#fff" stroke="#000" stroke-width="1.05"/>
<circle cx="415.86" cy="433.01" r="2.45" fill="#fff" stroke="#000" stroke-width="1.05"/>
<circle cx="419.25" cy="434.31" r="2.45" fill="#fff" stroke="#000" stroke-width="1.05"/>
<circle cx="422.64" cy="433.01" r="2.45" fill="#fff" stroke="#000" stroke-width="1.05"/>
<circle cx="426.02" cy="433.82" r="2.45" fill="#fff" stroke="#000" stroke-width="1.05"/>
<circle cx="432.80" cy="433.01" r="2.45" fill="#fff" stroke="#000" stroke-width="1.05"/>
<circle cx="439.57" cy="433.82" r="2.45" fill="#fff" stroke="#000" stroke-width="1.05"/>
<circle cx="446.35" cy="433.01" r="2.45" fill="#fff" stroke="#000" stroke-width="1.05"/>
<circle cx="486.99" cy="434.64" r="2.45" fill="#fff" stroke="#000" stroke-width="1.05"/>
<circle cx="568.28" cy="436.26" r="2.45" fill="#fff" stroke="#000" stroke-width="1.05"/>
<rect x="647.57" y="432.64" width="4.00" height="4.00" fill="#fff" stroke="#000" stroke-width="1.05"/>
<circle cx="405.70" cy="431.06" r="2.90" fill="#000"/>
<circle cx="409.09" cy="431.06" r="2.90" fill="#000"/>
<circle cx="412.47" cy="430.24" r="2.90" fill="#000"/>
<circle cx="415.86" cy="431.06" r="2.90" fill="#000"/>
<circle cx="419.25" cy="430.24" r="2.90" fill="#000"/>
<circle cx="422.64" cy="431.06" r="2.90" fill="#000"/>
<circle cx="426.02" cy="430.24" r="2.90" fill="#000"/>
<circle cx="432.80" cy="431.06" r="2.90" fill="#000"/>
<circle cx="439.57" cy="430.57" r="2.90" fill="#000"/>
<circle cx="446.35" cy="432.20" r="2.90" fill="#000"/>
<rect x="484.49" y="430.51" width="5.00" height="5.00" fill="#000"/>
<circle cx="568.28" cy="434.31" r="2.90" fill="#000"/>
<circle cx="649.57" cy="437.89" r="2.90" fill="#000"/>
<rect x="405.70" y="291.54" width="270.97" height="195.13" fill="none" stroke="#333" stroke-width="1.5"/>
<path d="M402.70,486.67H405.70 M402.70,454.15H405.70 M402.70,421.63H405.70 M402.70,389.11H405.70 M402.70,356.58H405.70 M402.70,324.06H405.70 M402.70,291.54H405.70 M405.70,486.67V489.67 M473.44,486.67V489.67 M541.18,486.67V489.67 M608.93,486.67V489.67 M676.67,486.67V489.67" stroke="#333" stroke-width="1.3"/>
<text x="398.00" y="490.97" text-anchor="end" class="tl">0</text>
<text x="398.00" y="458.45" text-anchor="end" class="tl">2</text>
<text x="398.00" y="425.93" text-anchor="end" class="tl">4</text>
<text x="398.00" y="393.41" text-anchor="end" class="tl">6</text>
<text x="398.00" y="360.88" text-anchor="end" class="tl">8</text>
<path d="M389.12,328.36L388.07,328.36L388.07,321.64C387.82,321.88 387.48,322.12 387.07,322.36C386.66,322.60 386.29,322.78 385.97,322.90L385.97,321.88C386.56,321.61 387.08,321.27 387.52,320.87C387.96,320.48 388.27,320.11 388.45,319.77L389.12,319.77Z" fill="#1a1a1a" stroke="#1a1a1a" stroke-width="0.25"/>
<text x="391.33" y="328.36" class="tl">0</text>
<path d="M389.12,295.84L388.07,295.84L388.07,289.12C387.82,289.36 387.48,289.60 387.07,289.84C386.66,290.08 386.29,290.26 385.97,290.38L385.97,289.36C386.56,289.08 387.08,288.74 387.52,288.35C387.96,287.96 388.27,287.59 388.45,287.25L389.12,287.25Z" fill="#1a1a1a" stroke="#1a1a1a" stroke-width="0.25"/>
<text x="391.33" y="295.84" class="tl">2</text>
<text x="405.70" y="503.47" text-anchor="middle" class="tl">0</text>
<text x="473.44" y="503.47" text-anchor="middle" class="tl">20</text>
<text x="541.18" y="503.47" text-anchor="middle" class="tl">40</text>
<text x="608.93" y="503.47" text-anchor="middle" class="tl">60</text>
<text x="676.67" y="503.47" text-anchor="middle" class="tl">80</text>
<text x="553.40" y="527.30" text-anchor="middle" class="at">Time (h)</text>
<text transform="translate(370.50,390.55) rotate(-90)" text-anchor="middle" class="at">Log CFU/g</text>
<text x="353" y="293" class="pl">(D)</text></g>
</g>
</svg>
</body></html>
